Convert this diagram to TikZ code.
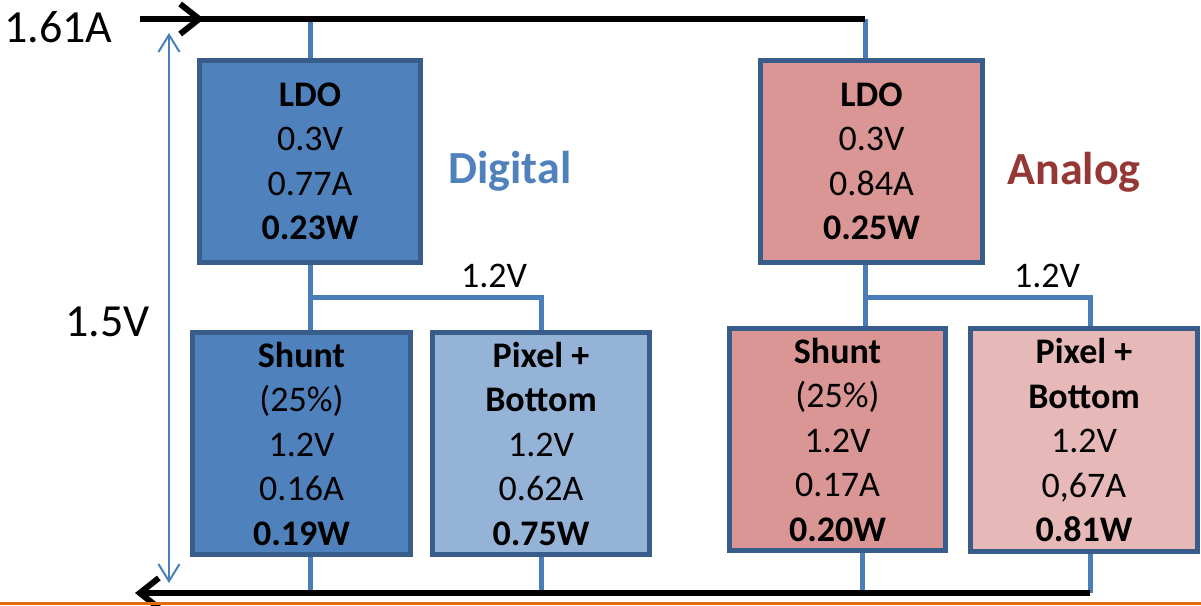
\documentclass[tikz,border=0pt]{standalone}
\usepackage{fontspec}
\setmainfont{Carlito}
\usetikzlibrary{arrows.meta}
\definecolor{dfill}{HTML}{4F81BD}
\definecolor{dlight}{HTML}{95B3D7}
\definecolor{afill}{HTML}{D99694}
\definecolor{alight}{HTML}{E6B9B8}
\definecolor{edgec}{HTML}{385D8A}
\definecolor{feedc}{HTML}{4A7EBB}
\definecolor{digtxt}{HTML}{4F81BD}
\definecolor{anatxt}{HTML}{953735}
\definecolor{rulec}{HTML}{E46C0A}
\begin{document}
\begin{tikzpicture}[x=1pt,y=-1pt,
  box/.style={draw=edgec, line width=5pt, inner sep=0pt, align=center,
    font=\fontsize{36}{44.5}\selectfont},
  feed/.style={draw=feedc, line width=5pt},
  mainline/.style={draw=black, line width=6pt},
  chev/.style={-{Straight Barb[length=19pt,width=30pt]}},
  span/.style={draw=feedc, line width=2pt,
    {Straight Barb[length=17pt,width=21pt]}-{Straight Barb[length=17pt,width=21pt]}},
  lbl/.style={inner sep=0pt},
  big/.style={lbl, font=\fontsize{46}{46}\selectfont},
  mid/.style={lbl, font=\fontsize{36}{36}\selectfont},
  side/.style={lbl, font=\bfseries\fontsize{46}{46}\selectfont}]
\useasboundingbox (0,0) rectangle (1201,605);

% supply and return buses
\coordinate (ts) at (140,19);
\coordinate (tm) at (204,19);
\coordinate (jd) at (310,19);
\coordinate (ja) at (865,19);
\coordinate (be) at (1090,593);
\coordinate (bs) at (135,593);
\coordinate (spd) at (310,297);
\coordinate (spa) at (865,297);
\coordinate (vt) at (169,33);
\coordinate (vb) at (169,583);
\coordinate (rl) at (0,603);
\coordinate (rr) at (1201,603);

% digital branch
\node[box, fill=dfill, minimum width=221pt, minimum height=202pt] (dldo) at (310,161.5)
  {\textbf{LDO}\\0.3V\\0.77A\\\textbf{0.23W}};
\node[box, fill=dfill, minimum width=218pt, minimum height=222pt] (dsh) at (301.5,443.5)
  {\textbf{Shunt}\\(25\%)\\1.2V\\0.16A\\\textbf{0.19W}};
\node[box, fill=dlight, minimum width=217pt, minimum height=222pt] (dpx) at (541,443.5)
  {\textbf{Pixel +}\\\textbf{Bottom}\\1.2V\\0.62A\\\textbf{0.75W}};

% analog branch
\node[box, fill=afill, minimum width=222pt, minimum height=202pt] (aldo) at (871.5,161.5)
  {\textbf{LDO}\\0.3V\\0.84A\\\textbf{0.25W}};
\node[box, fill=afill, minimum width=216pt, minimum height=222pt] (ash) at (837.5,439.5)
  {\textbf{Shunt}\\(25\%)\\1.2V\\0.17A\\\textbf{0.20W}};
\node[box, fill=alight, minimum width=227pt, minimum height=223pt] (apx) at (1084,440)
  {\textbf{Pixel +}\\\textbf{Bottom}\\1.2V\\0,67A\\\textbf{0.81W}};

% labels
\node[big, anchor=west] (cur) at (4,27) {1.61A};
\node[big, anchor=west] (volt) at (65,322) {1.5V};
\node[side, text=digtxt] (dlab) at (510,171) {Digital};
\node[side, text=anatxt] (alab) at (1074,172) {Analog};
\node[mid] (dv) at (494,275.5) {1.2V};
\node[mid] (av) at (1047,275.5) {1.2V};

% feed lines
\draw[feed] (jd) -- (jd |- dldo.north);
\draw[feed] (jd |- dldo.south) -- (jd |- dsh.north);
\draw[feed] (spd) -| (dpx.north);
\draw[feed] (ja) -- (ja |- aldo.north);
\draw[feed] (ja |- aldo.south) -- (ja |- ash.north);
\draw[feed] (spa) -| (be |- apx.north);
\draw[feed] (jd |- dsh.south) -- (jd |- bs);
\draw[feed] (dpx.south) -- (dpx.south |- bs);
\draw[feed] (862,553) -- (862,593);
\draw[feed] (be |- apx.south) -- (be);

% current path
\draw[mainline] (ts) -- (ja);
\draw[mainline, chev] (ts) -- (tm);
\draw[mainline, chev] (be) -- (bs);

% voltage span
\draw[span] (vt) -- (vb);

% bottom rule
\draw[draw=rulec, line width=3pt] (rl) -- (rr);
\end{tikzpicture}
\end{document}
